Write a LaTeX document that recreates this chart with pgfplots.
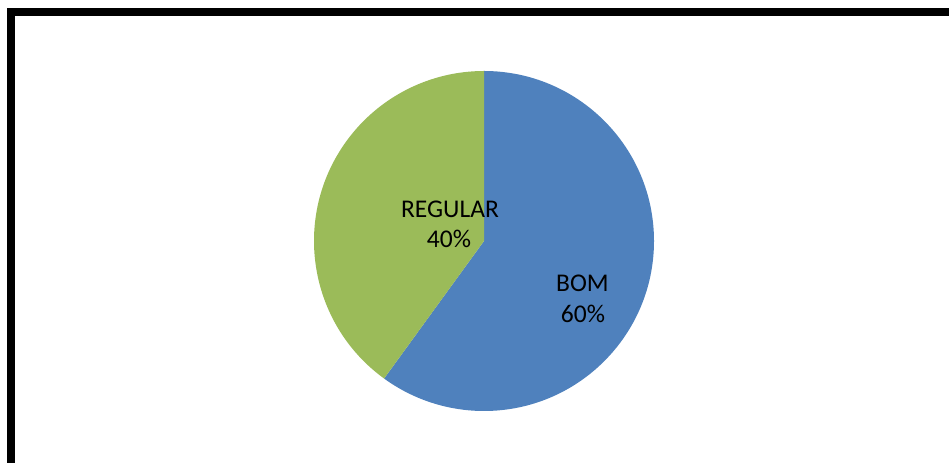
\documentclass[border=0pt]{standalone}
\usepackage{pgfplots}
\pgfplotsset{compat=1.18}
\usepackage{pgfplotstable}
\usepackage{fontspec}
\setmainfont{Carlito}
\definecolor{bomblue}{HTML}{4F81BD}
\definecolor{reggreen}{HTML}{9BBB59}
\pgfplotstableread{
label value
BOM 60
REGULAR 40
}\piedata
\pgfplotstablegetelem{0}{value}\of\piedata \let\vBOM\pgfplotsretval
\pgfplotstablegetelem{1}{value}\of\piedata \let\vREG\pgfplotsretval
\pgfmathsetmacro\aMid{90-3.6*\vBOM}
\pgfmathsetmacro\aRegEnd{\aMid-3.6*\vREG}
\begin{document}
\begin{tikzpicture}
\begin{axis}[
  x=1bp, y=1bp, xmin=0, xmax=949, ymin=0, ymax=463,
  hide axis, scale only axis, clip=false,
]
% page area
\path[use as bounding box] (axis cs:0,0) rectangle (axis cs:949,463);
% frame (top and left bars)
\fill[black] (axis cs:7,447) rectangle (axis cs:949,455);
\fill[black] (axis cs:7,0) rectangle (axis cs:15,455);
% pie sectors from data
\fill[bomblue] (axis cs:484,222) -- ([shift={(90:170bp)}]axis cs:484,222)
   arc[start angle=90, end angle=\aMid, radius=170bp] -- cycle;
\fill[reggreen] (axis cs:484,222) -- ([shift={(\aMid:170bp)}]axis cs:484,222)
   arc[start angle=\aMid, end angle=\aRegEnd, radius=170bp] -- cycle;
% labels
\node[anchor=base, inner sep=0pt, font=\fontsize{25.5bp}{30bp}\selectfont] at (axis cs:450,245.7) {REGULAR};
\node[anchor=base, inner sep=0pt, font=\fontsize{25.5bp}{30bp}\selectfont] at (axis cs:449,215.7) {\vREG\%};
\node[anchor=base, inner sep=0pt, font=\fontsize{25.5bp}{30bp}\selectfont] at (axis cs:582.5,171) {BOM};
\node[anchor=base, inner sep=0pt, font=\fontsize{25.5bp}{30bp}\selectfont] at (axis cs:583,140) {\vBOM\%};
\end{axis}
\end{tikzpicture}
\end{document}
